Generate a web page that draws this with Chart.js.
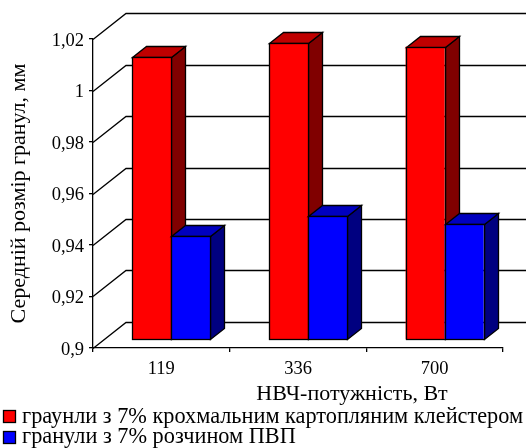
<!DOCTYPE html>
<html>
<head>
<meta charset="utf-8">
<script src="https://cdn.jsdelivr.net/npm/chart.js@4"></script>
<style>
  html, body { margin: 0; padding: 0; background: #fff; }
  canvas { display: block; }
</style>
</head>
<body>
<canvas id="barChart" width="526" height="448"></canvas>
<script>
// Data
var categories = ['119', '336', '700'];
var starchValues = [1.0098, 1.0152, 1.0139];
var pvpValues = [0.9403, 0.948, 0.945];
var yTicks = ['0,9', '0,92', '0,94', '0,96', '0,98', '1', '1,02'];
var starchLabel = 'граунли з 7% крохмальним картопляним клейстером';
var pvpLabel = 'гранули з 7% розчином ПВП';
var xTitle = 'НВЧ-потужність, Вт';
var yTitle = 'Середній розмір гранул, мм';

var FONT = "'Liberation Serif', 'Times New Roman', serif";
var LINE = 1.3;
var BAR_DX = 10, BAR_DY = -8;      // bars stand a little inside the floor
var DEPTH_X = 14, DEPTH_Y = -11;   // depth of a bar
var WALL_DX = 33, WALL_DY = -26;   // depth of the back wall

function crisp(v) {
  return Math.round(v) + 0.5;
}

function drawFaces(ctx, meta, ds) {
  meta.data.forEach(function (bar) {
    var l = crisp(bar.x - bar.width / 2), r = crisp(bar.x + bar.width / 2);
    var t = crisp(bar.y), b = crisp(bar.base);
    ctx.fillStyle = ds.sideColor;
    ctx.beginPath();
    ctx.moveTo(r, t);
    ctx.lineTo(r + DEPTH_X, t + DEPTH_Y);
    ctx.lineTo(r + DEPTH_X, b + DEPTH_Y);
    ctx.lineTo(r, b);
    ctx.closePath();
    ctx.fill();
    ctx.stroke();
    ctx.fillStyle = ds.topColor;
    ctx.beginPath();
    ctx.moveTo(l, t);
    ctx.lineTo(l + DEPTH_X, t + DEPTH_Y);
    ctx.lineTo(r + DEPTH_X, t + DEPTH_Y);
    ctx.lineTo(r, t);
    ctx.closePath();
    ctx.fill();
    ctx.stroke();
  });
}

function outlineFronts(ctx, meta) {
  meta.data.forEach(function (bar) {
    var l = crisp(bar.x - bar.width / 2), r = crisp(bar.x + bar.width / 2);
    var t = crisp(bar.y), b = crisp(bar.base);
    ctx.strokeRect(l, t, r - l, b - t);
  });
}

var depthPlugin = {
  id: 'depth',
  // walls first, then red before blue so blue covers the red side face
  beforeDatasetsDraw: function (chart) {
    var ctx = chart.ctx, y = chart.scales.y, area = chart.chartArea;
    ctx.save();
    ctx.strokeStyle = '#000';
    ctx.lineWidth = LINE;
    y.ticks.forEach(function (t) {
      var py = crisp(y.getPixelForValue(t.value));
      ctx.beginPath();
      ctx.moveTo(area.left, py);
      ctx.lineTo(area.left + WALL_DX, py + WALL_DY);
      ctx.lineTo(area.right + WALL_DX, py + WALL_DY);
      ctx.stroke();
    });
    ctx.translate(BAR_DX, BAR_DY);
    chart.data.datasets.forEach(function (ds, i) {
      var meta = chart.getDatasetMeta(i);
      drawFaces(ctx, meta, ds);
      meta.controller.draw();
      outlineFronts(ctx, meta);
    });
    ctx.restore();
    return false;
  },
  // x title and legend are placed by hand like in the original
  afterDraw: function (chart) {
    var ctx = chart.ctx;
    ctx.save();
    ctx.font = '22px ' + FONT;
    ctx.fillStyle = '#000';
    ctx.textAlign = 'center';
    ctx.textBaseline = 'middle';
    ctx.fillText(xTitle, 352, 394);
    ctx.font = '22.3px ' + FONT;
    ctx.textAlign = 'left';
    chart.data.datasets.forEach(function (ds, i) {
      var top = 410 + i * 20.5;
      ctx.fillStyle = ds.backgroundColor;
      ctx.strokeStyle = '#000';
      ctx.lineWidth = LINE;
      ctx.fillRect(3.5, Math.round(top) + 0.5, 12, 12);
      ctx.strokeRect(3.5, Math.round(top) + 0.5, 12, 12);
      ctx.fillStyle = '#000';
      ctx.fillText(ds.label, 22, top + 7);
    });
    ctx.restore();
  }
};

new Chart(document.getElementById('barChart').getContext('2d'), {
  type: 'bar',
  data: {
    labels: categories,
    datasets: [{
      label: starchLabel,
      data: starchValues,
      base: 0.9,
      backgroundColor: '#ff0000',
      sideColor: '#800000',
      topColor: '#bf0000',
      borderWidth: 0
    }, {
      label: pvpLabel,
      data: pvpValues,
      base: 0.9,
      backgroundColor: '#0000ff',
      sideColor: '#000080',
      topColor: '#0000bf',
      borderWidth: 0
    }]
  },
  options: {
    responsive: false,
    animation: false,
    categoryPercentage: 0.571,
    barPercentage: 1,
    layout: { padding: { top: 39, right: 23, left: 0, bottom: 48 } },
    plugins: {
      tooltip: { enabled: false },
      legend: { display: false }
    },
    scales: {
      x: {
        afterFit: function (s) { s.height = 52; },
        grid: { drawOnChartArea: false, color: '#000', tickLength: 4, lineWidth: LINE },
        border: { color: '#000', width: LINE },
        ticks: { color: '#000', padding: 6, maxRotation: 0, font: { family: FONT, size: 18.5 } }
      },
      y: {
        min: 0.9,
        max: 1.02,
        afterFit: function (s) { s.width = 93; },
        grid: { drawOnChartArea: false, color: '#000', tickLength: 4, lineWidth: LINE },
        border: { color: '#000', width: LINE },
        title: {
          display: true,
          text: yTitle,
          color: '#000',
          padding: { top: 6, bottom: 0 },
          font: { family: FONT, size: 22, weight: 'normal' }
        },
        ticks: {
          stepSize: 0.02,
          color: '#000',
          padding: 5,
          labelOffset: 2,
          font: { family: FONT, size: 18.5 },
          callback: function (v, i) { return yTicks[i]; }
        }
      }
    }
  },
  plugins: [depthPlugin]
});
</script>
</body>
</html>
